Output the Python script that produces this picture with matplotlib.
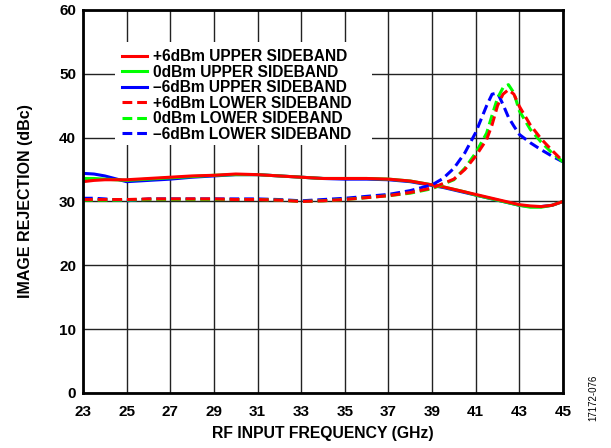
import matplotlib
matplotlib.use("Agg")
import matplotlib.pyplot as plt
from matplotlib.patches import Rectangle

plt.rcParams["font.family"] = ["Liberation Sans", "DejaVu Sans"]
plt.rcParams["font.weight"] = "bold"

# ── data ──────────────────────────────────────────────────────────────────────
freq = [23, 23.5, 24, 25, 26, 27, 28, 29, 30, 31, 32, 33, 34, 35, 36, 37, 38,
        39, 39.5, 40, 40.5, 41, 41.5, 41.75, 42, 42.25, 42.5, 42.75, 43, 43.5,
        44, 44.5, 45]

usb_p6 = [33.1, 33.3, 33.4, 33.4, 33.6, 33.8, 34.0, 34.1, 34.3, 34.2, 34.0,
          33.8, 33.6, 33.6, 33.6, 33.5, 33.2, 32.6, 32.3, 31.9, 31.5, 31.1,
          30.7, 30.5, 30.3, 30.1, 29.9, 29.7, 29.5, 29.3, 29.2, 29.4, 30.0]
usb_0 = [33.6, 33.6, 33.5, 33.3, 33.5, 33.7, 33.9, 34.1, 34.2, 34.2, 34.0,
         33.8, 33.6, 33.6, 33.6, 33.5, 33.2, 32.6, 32.3, 31.9, 31.5, 31.0,
         30.6, 30.4, 30.2, 30.0, 29.8, 29.6, 29.4, 29.1, 29.1, 29.4, 30.0]
usb_m6 = [34.4, 34.3, 34.0, 33.1, 33.3, 33.5, 33.8, 34.0, 34.2, 34.2, 34.0,
          33.8, 33.6, 33.5, 33.5, 33.4, 33.1, 32.5, 32.2, 31.8, 31.4, 31.0,
          30.6, 30.4, 30.2, 30.0, 29.8, 29.6, 29.4, 29.2, 29.2, 29.4, 30.0]

lsb_p6 = [30.3, 30.3, 30.3, 30.3, 30.4, 30.4, 30.4, 30.4, 30.3, 30.3, 30.2,
          30.0, 30.1, 30.3, 30.6, 30.9, 31.4, 32.1, 32.8, 33.5, 35.0, 37.1,
          39.7, 42.0, 45.0, 46.8, 47.5, 46.8, 44.9, 42.0, 39.8, 38.0, 36.3]
lsb_0 = [30.2, 30.2, 30.2, 30.2, 30.3, 30.3, 30.3, 30.3, 30.3, 30.3, 30.2,
         30.0, 30.1, 30.3, 30.6, 30.9, 31.3, 32.0, 32.7, 33.4, 35.2, 37.6,
         40.7, 43.5, 46.2, 47.8, 48.3, 47.0, 44.2, 41.3, 39.3, 37.6, 36.2]
lsb_m6 = [30.5, 30.5, 30.4, 30.1, 30.4, 30.4, 30.4, 30.4, 30.4, 30.4, 30.3,
          30.1, 30.3, 30.5, 30.8, 31.1, 31.7, 32.6, 33.6, 35.2, 37.6, 40.8,
          45.0, 46.8, 47.0, 45.2, 43.2, 41.8, 40.5, 39.2, 38.1, 37.1, 36.2]

labels = ["+6dBm UPPER SIDEBAND", "0dBm UPPER SIDEBAND", "\u20136dBm UPPER SIDEBAND",
          "+6dBm LOWER SIDEBAND", "0dBm LOWER SIDEBAND", "\u20136dBm LOWER SIDEBAND"]
xticks = list(range(23, 46, 2))
yticks = list(range(0, 61, 10))

# ── plot ──────────────────────────────────────────────────────────────────────
fig = plt.figure(figsize=(6.11, 4.48), dpi=100)
ax = fig.add_axes([0.1358, 0.1228, 0.7856, 0.855])

RED, GREEN, BLUE = "#ff0000", "#00ff00", "#0000ff"
LW = 2.2
DASH = (0, (3.2, 1.6))

series = [
    (usb_p6, RED, "-", 6), (usb_0, GREEN, "-", 5), (usb_m6, BLUE, "-", 4),
    (lsb_p6, RED, DASH, 9), (lsb_0, GREEN, DASH, 8), (lsb_m6, BLUE, DASH, 7),
]
handles = []
for (vals, col, ls, z), lab in zip(series, labels):
    h, = ax.plot(freq, vals, color=col, linestyle=ls, linewidth=LW,
                 zorder=z, label=lab)
    handles.append(h)

ax.set_xlim(23, 45)
ax.set_ylim(0, 60)
ax.set_xticks(xticks)
ax.set_yticks(yticks)
ax.grid(True, color="#222222", linewidth=1.0, zorder=1)
ax.set_axisbelow(True)
ax.tick_params(length=0, labelsize=11)
ax.tick_params(axis="x", pad=9)
ax.tick_params(axis="y", pad=5)
for lab in ax.get_xticklabels() + ax.get_yticklabels():
    lab.set_fontweight("bold")
for sp in ax.spines.values():
    sp.set_linewidth(2.0)
    sp.set_zorder(10)

ax.set_xlabel("RF INPUT FREQUENCY (GHz)", fontsize=11.3, fontweight="bold", labelpad=5)
ax.set_ylabel("IMAGE REJECTION (dBc)", fontsize=11.5, fontweight="bold", labelpad=19)

# white block behind the legend hides the grid there
ax.add_patch(Rectangle((0.0667, 0.6475), 0.535, 0.269, transform=ax.transAxes,
                       facecolor="white", edgecolor="none", zorder=2))
leg = ax.legend(handles=handles, loc="upper left", bbox_to_anchor=(0.081, 0.897),
                frameon=False, fontsize=11.2, handlelength=1.6, handletextpad=0.4,
                labelspacing=0.03, borderpad=0, borderaxespad=0)
leg.set_zorder(3)

fig.text(0.971, 0.06, "17172-076", rotation=90, fontsize=7,
         fontweight="normal", ha="center", va="bottom")

fig.savefig("out.png", dpi=100)
